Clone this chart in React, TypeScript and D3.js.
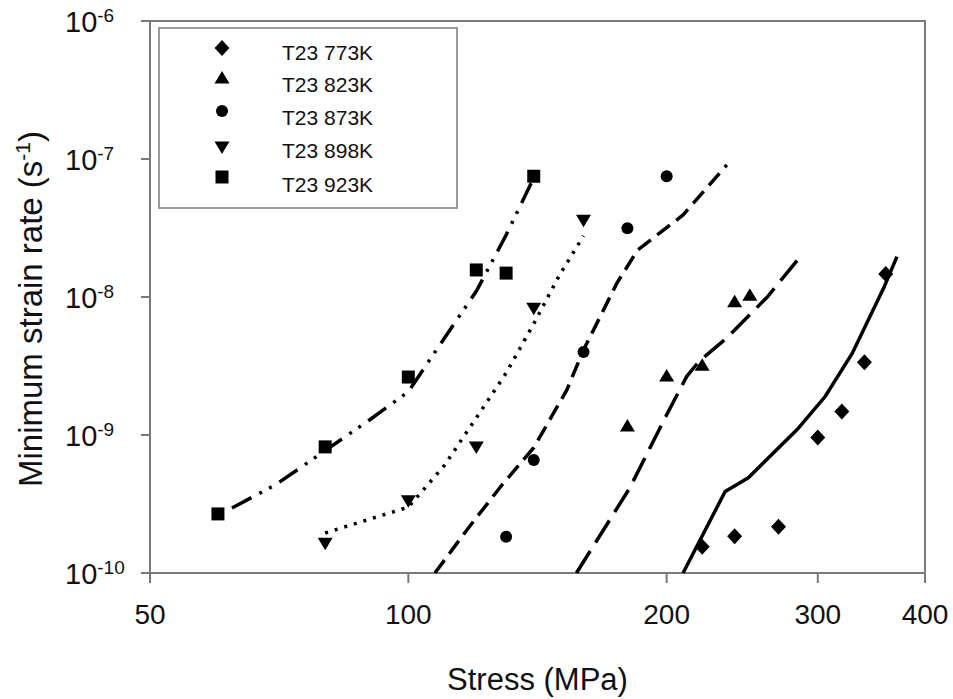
import React from "react";
import * as d3 from "d3";

// ---- data ----
const seriesNames = ["T23 773K", "T23 823K", "T23 873K", "T23 898K", "T23 923K"];

const stress773 = [220, 240, 270, 300, 320, 340, 360];
const rate773 = [1.55e-10, 1.85e-10, 2.16e-10, 9.6e-10, 1.48e-9, 3.37e-9, 1.47e-8];
const fitStress773 = [209, 234, 249, 284, 306, 329, 358, 371];
const fitRate773 = [1e-10, 3.9e-10, 4.9e-10, 1.1e-9, 1.9e-9, 3.9e-9, 1.16e-8, 1.96e-8];

const stress823 = [180, 200, 220, 240, 250];
const rate823 = [1.16e-9, 2.68e-9, 3.2e-9, 9.25e-9, 1.03e-8];
const fitStress823 = [157, 181, 200, 211, 218, 235, 262, 286];
const fitRate823 = [1e-10, 4.1e-10, 1.4e-9, 2.65e-9, 3.4e-9, 5.05e-9, 1.0e-8, 1.95e-8];

const stress873 = [130, 140, 160, 180, 200];
const rate873 = [1.83e-10, 6.6e-10, 4.0e-9, 3.15e-8, 7.5e-8];
const fitStress873 = [107.4, 117, 128, 140, 153, 160, 175, 185, 209, 235];
const fitRate873 = [1e-10, 2.05e-10, 4.2e-10, 8.1e-10, 2.12e-9, 4.13e-9, 1.26e-8, 2.19e-8, 3.93e-8, 9.06e-8];

const stress898 = [80, 100, 120, 140, 160];
const rate898 = [1.64e-10, 3.34e-10, 8.19e-10, 8.3e-9, 3.6e-8];
const fitStress898 = [80, 100, 110, 120, 130, 140, 150, 160];
const fitRate898 = [1.95e-10, 3.0e-10, 5.95e-10, 1.33e-9, 2.81e-9, 6.4e-9, 1.44e-8, 2.77e-8];

const stress923 = [60, 80, 100, 120, 130, 140];
const rate923 = [2.68e-10, 8.2e-10, 2.63e-9, 1.57e-8, 1.49e-8, 7.5e-8];
const fitStress923 = [62.3, 70, 80, 90, 100, 110, 120, 130, 140];
const fitRate923 = [2.96e-10, 4.35e-10, 7.7e-10, 1.28e-9, 2.06e-9, 4.97e-9, 1.1e-8, 2.81e-8, 7.3e-8];

const xTicks = [50, 100, 200, 300, 400];
const yTickExps = [-10, -9, -8, -7, -6];

// ---- styles ----
const FONT = "'Liberation Sans', Arial, Helvetica, sans-serif";
const AXIS = "#7a7a7a";

const shapes: Record<string, string> = {
  diamond: "M0,-8L7.5,0L0,8L-7.5,0Z",
  triUp: "M0,-7L7.5,5.5L-7.5,5.5Z",
  circle: d3.symbol(d3.symbolCircle, Math.PI * 36)() as string,
  triDown: "M0,7L7.5,-5.5L-7.5,-5.5Z",
  square: "M-6.5,-6.5H6.5V6.5H-6.5Z",
};

const series = [
  { name: seriesNames[0], xs: stress773, ys: rate773, fx: fitStress773, fy: fitRate773, shape: "diamond", dash: "none" },
  { name: seriesNames[1], xs: stress823, ys: rate823, fx: fitStress823, fy: fitRate823, shape: "triUp", dash: "26,10" },
  { name: seriesNames[2], xs: stress873, ys: rate873, fx: fitStress873, fy: fitRate873, shape: "circle", dash: "16,8" },
  { name: seriesNames[3], xs: stress898, ys: rate898, fx: fitStress898, fy: fitRate898, shape: "triDown", dash: "3,7" },
  { name: seriesNames[4], xs: stress923, ys: rate923, fx: fitStress923, fy: fitRate923, shape: "square", dash: "22,9,3,8,3,9" },
];

const legendMarkerY = [48, 78, 111, 147, 177];
const legendTextY = [60, 92, 125, 158, 192];

export default function App() {
  const W = 953, H = 699;
  const left = 150, right = 925, top = 21, bottom = 573;
  const x = d3.scaleLog().domain([50, 400]).range([left, right]);
  const y = d3.scaleLog().domain([1e-10, 1e-6]).range([bottom, top]);
  const line = d3
    .line<[number, number]>()
    .x((d) => x(d[0]))
    .y((d) => y(d[1]));

  return (
    <svg
      width={W}
      height={H}
      style={{ position: "absolute", left: 0, top: 0, background: "#fff" }}
      fontFamily={FONT}
    >
      <rect x={0} y={0} width={W} height={H} fill="#fff" />
      {/* plot frame */}
      <rect x={left} y={top} width={right - left} height={bottom - top} fill="none" stroke={AXIS} strokeWidth={2} />
      {/* y ticks */}
      {yTickExps.map((e) => {
        const yy = y(Math.pow(10, e));
        return (
          <g key={"y" + e}>
            <line x1={left - 9} x2={left} y1={yy} y2={yy} stroke={AXIS} strokeWidth={2} />
            <text x={65} y={yy + 11} fontSize={29} fill="#111">
              <tspan>10</tspan>
              <tspan fontSize={19} dy={-10}>{"-" + Math.abs(e)}</tspan>
            </text>
          </g>
        );
      })}
      {/* x ticks */}
      {xTicks.map((t) => {
        const xx = x(t);
        return (
          <g key={"x" + t}>
            <line x1={xx} x2={xx} y1={bottom} y2={bottom + 10} stroke={AXIS} strokeWidth={2} />
            <text x={xx} y={624} fontSize={28} textAnchor="middle" fill="#111">
              {t}
            </text>
          </g>
        );
      })}
      {/* axis titles */}
      <text x={537.5} y={690} fontSize={31} textAnchor="middle" fill="#111">
        Stress (MPa)
      </text>
      <text transform="translate(42,309) rotate(-90)" fontSize={33} textAnchor="middle" fill="#111">
        <tspan>Minimum strain rate (s</tspan>
        <tspan fontSize={21} dy={-12}>-1</tspan>
        <tspan dy={12}>)</tspan>
      </text>

      {/* fit lines */}
      {series.map((s) => (
        <path
          key={"l" + s.name}
          d={line(s.fx.map((v, i) => [v, s.fy[i]] as [number, number])) as string}
          fill="none"
          stroke="#000"
          strokeWidth={3.5}
          strokeDasharray={s.dash}
        />
      ))}
      {/* markers */}
      {series.map((s) =>
        s.xs.map((v, i) => (
          <path
            key={s.name + i}
            d={shapes[s.shape]}
            transform={`translate(${x(v)},${y(s.ys[i])})`}
            fill="#000"
          />
        ))
      )}

      {/* legend */}
      <rect x={159} y={28} width={298} height={180} fill="#fff" stroke={AXIS} strokeWidth={1.5} />
      {series.map((s, i) => (
        <g key={"lg" + s.name}>
          <path d={shapes[s.shape]} transform={`translate(222,${legendMarkerY[i]})`} fill="#000" />
          <text x={282} y={legendTextY[i]} fontSize={21} fill="#111">
            {s.name}
          </text>
        </g>
      ))}
    </svg>
  );
}
